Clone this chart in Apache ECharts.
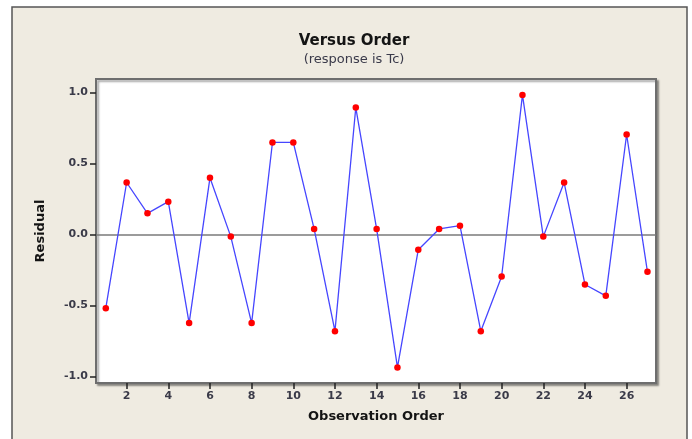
<!DOCTYPE html>
<html>
<head>
<meta charset="utf-8">
<script src="https://cdn.jsdelivr.net/npm/echarts@6/dist/echarts.min.js"></script>
<style>
html,body{margin:0;padding:0;background:#ffffff;}
#chart{width:692px;height:439px;}
</style>
</head>
<body>
<div id="chart"></div>
<script>
// Observation order (x) and residuals (y)
var observationOrder = [1,2,3,4,5,6,7,8,9,10,11,12,13,14,15,16,17,18,19,20,21,22,23,24,25,26,27];
var residuals = [-0.52,0.365,0.148,0.23,-0.625,0.398,-0.016,-0.625,0.647,0.647,0.038,-0.682,0.893,0.038,-0.937,-0.108,0.038,0.061,-0.682,-0.297,0.982,-0.016,0.365,-0.353,-0.433,0.703,-0.264];
var xTicks = [2,4,6,8,10,12,14,16,18,20,22,24,26];
var yTicks = [-1.0,-0.5,0.0,0.5,1.0];

var chart = echarts.init(document.getElementById('chart'), null, {renderer:'canvas'});
var fontFam = '"DejaVu Sans", sans-serif';
var points = observationOrder.map(function(o,i){return [o, residuals[i]];});

chart.setOption({
  backgroundColor:'#ffffff',
  animation:false,
  graphic:[
    {type:'rect', z:-10, shape:{x:12, y:7, width:675, height:445},
     style:{fill:'#EFEBE1', stroke:'#555555', lineWidth:1.5}}
  ],
  title:{
    text:'Versus Order',
    subtext:'(response is Tc)',
    left:349, top:29, textAlign:'center', itemGap:4,
    textStyle:{fontFamily:fontFam, fontSize:15, fontWeight:'bold', color:'#141414'},
    subtextStyle:{fontFamily:fontFam, fontSize:13, color:'#3a3a4a'}
  },
  grid:{
    left:96, right:36, top:79, bottom:56,
    show:true, backgroundColor:'#ffffff', borderColor:'#6e6e6e', borderWidth:2,
    shadowColor:'rgba(0,0,0,0.35)', shadowBlur:2, shadowOffsetX:2, shadowOffsetY:2
  },
  xAxis:{
    type:'value', min:0.53, max:27.41, position:'bottom', z:5,
    name:'Observation Order', nameLocation:'middle', nameGap:27,
    nameTextStyle:{fontFamily:fontFam, fontSize:13, fontWeight:'bold', color:'#141414'},
    axisLine:{show:true, onZero:false, lineStyle:{color:'#6e6e6e', width:2}},
    splitLine:{show:false},
    axisTick:{show:true, inside:false, length:6, customValues:xTicks, lineStyle:{color:'#222', width:1.5}},
    axisLabel:{customValues:xTicks, margin:8, fontFamily:fontFam, fontSize:11, fontWeight:'bold', color:'#3a3a48',
      formatter:function(v){return String(v);}}
  },
  yAxis:{
    type:'value', min:-1.047, max:1.094, position:'left', z:5,
    name:'Residual', nameLocation:'middle', nameGap:49, nameRotate:90,
    nameTextStyle:{fontFamily:fontFam, fontSize:13, fontWeight:'bold', color:'#141414'},
    axisLine:{show:true, onZero:false, lineStyle:{color:'#6e6e6e', width:2}},
    splitLine:{show:false},
    axisTick:{show:true, inside:false, length:6, customValues:yTicks, lineStyle:{color:'#222', width:1.5}},
    axisLabel:{customValues:yTicks, margin:8, fontFamily:fontFam, fontSize:11, fontWeight:'bold', color:'#3a3a48',
      formatter:function(v){return v.toFixed(1);}}
  },
  series:[{
    type:'line',
    data:points,
    lineStyle:{color:'#4646ff', width:1.3},
    symbol:'circle', symbolSize:6.5,
    itemStyle:{color:'#ff0000', borderWidth:0},
    z:3,
    markLine:{
      silent:true, symbol:['none','none'], label:{show:false},
      lineStyle:{color:'#7a7a7a', width:1.5, type:'solid'},
      data:[{yAxis:0}], z:1
    }
  }]
});
</script>
</body>
</html>
